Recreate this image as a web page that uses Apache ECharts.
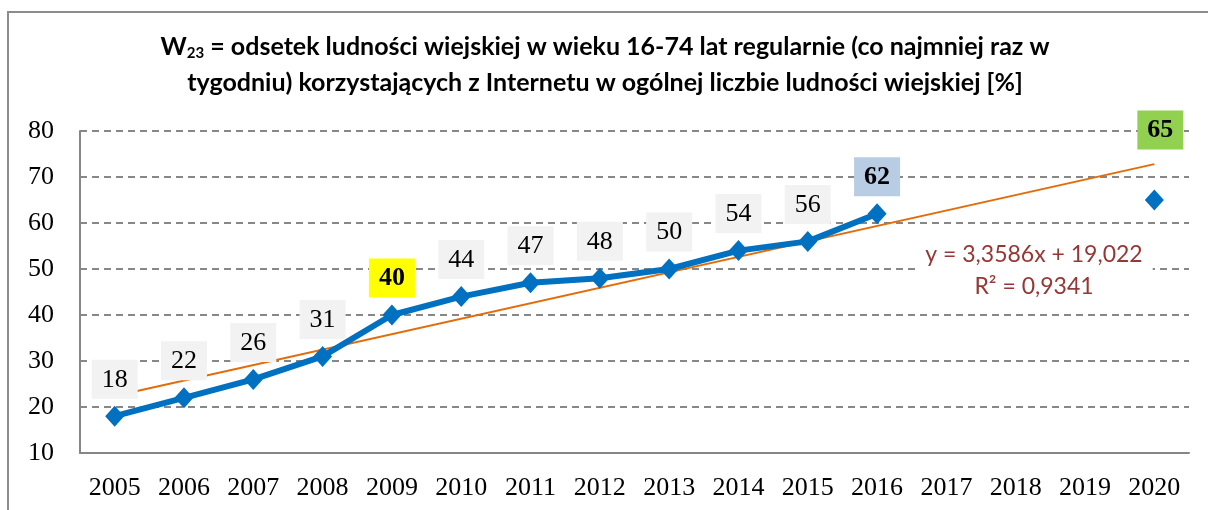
<!DOCTYPE html>
<html lang="pl">
<head>
    <meta charset="utf-8">
    <title>W23 - ludność wiejska korzystająca z Internetu</title>
    <script src="https://cdn.jsdelivr.net/npm/echarts@6/dist/echarts.min.js"></script>
    <style>
        html, body { margin: 0; padding: 0; background: #fff; }
        #chart { width: 1208px; height: 510px; }
    </style>
</head>
<body>
<div id="chart"></div>
<script>
    // dane
    var years = ['2005', '2006', '2007', '2008', '2009', '2010', '2011', '2012',
                 '2013', '2014', '2015', '2016', '2017', '2018', '2019', '2020'];
    var rate = [18, 22, 26, 31, 40, 44, 47, 48, 50, 54, 56, 62, null, null, null, 65];
    // linia trendu - końce
    var trend = [22.4, null, null, null, null, null, null, null,
                 null, null, null, null, null, null, null, 72.8];
    var yTicks = [10, 80, 10]; // min, max, krok
    var eqLines = ['y = 3,3586x + 19,022', 'R² = 0,9341'];

    // wyróżnione etykiety (kolor tła)
    var highlight = { '2009': '#ffff00', '2016': '#b8cce4', '2020': '#92d050' };

    var serif = '"Liberation Serif", "DejaVu Serif", serif';

    var chart = echarts.init(document.getElementById('chart'));

    var points = rate.map(function (v, i) {
        var item = { value: v };
        var bg = highlight[years[i]];
        if (bg) {
            item.label = { backgroundColor: bg, fontWeight: 'bold' };
        }
        if (years[i] === '2020') {
            item.label.distance = 40;
            item.label.offset = [6, 0];
        }
        return item;
    });

    chart.setOption({
        animation: false,
        title: {
            left: 600,
            top: 24,
            textAlign: 'center',
            text: '{b|W}{sub|23}{b| = odsetek ludności wiejskiej w wieku 16-74 lat regularnie (co najmniej raz w}\n' +
                  '{b|tygodniu) korzystających z Internetu w ogólnej liczbie ludności wiejskiej [%]}',
            textStyle: {
                rich: {
                    b: { fontFamily: 'Lato', fontWeight: 'bold', fontSize: 25, lineHeight: 36, color: '#000' },
                    sub: { fontFamily: 'Lato', fontWeight: 'bold', fontSize: 15, lineHeight: 36, padding: [12, 0, 0, 0], color: '#000' }
                }
            }
        },
        grid: { left: 80, right: 19, top: 131, bottom: 57 },
        xAxis: {
            type: 'category',
            data: years,
            boundaryGap: true,
            axisLine: { lineStyle: { color: '#868686', width: 2 } },
            axisTick: { show: false },
            axisLabel: { color: '#000', fontFamily: serif, fontSize: 26, margin: 22 }
        },
        yAxis: {
            type: 'value',
            min: yTicks[0],
            max: yTicks[1],
            interval: yTicks[2],
            axisLine: { show: true, lineStyle: { color: '#868686', width: 2 } },
            axisTick: { show: false },
            axisLabel: { color: '#000', fontFamily: serif, fontSize: 26, margin: 26 },
            splitLine: { lineStyle: { color: '#878787', width: 2, type: [7, 5] } }
        },
        series: [
            {
                name: 'trend',
                type: 'line',
                data: trend,
                connectNulls: true,
                symbol: 'none',
                lineStyle: { color: '#e36c09', width: 2 },
                z: 3
            },
            {
                name: 'W23',
                type: 'line',
                data: points,
                connectNulls: false,
                symbol: 'diamond',
                symbolSize: [19, 21],
                itemStyle: { color: '#0070c0' },
                lineStyle: { color: '#0070c0', width: 6 },
                label: {
                    show: true,
                    position: 'top',
                    distance: 7,
                    color: '#000',
                    fontFamily: serif,
                    fontSize: 26,
                    lineHeight: 28,
                    backgroundColor: '#f2f2f2',
                    padding: [6, 10, 5, 10]
                },
                z: 4
            }
        ],
        graphic: [
            {
                type: 'rect',
                shape: { x: 8, y: 12, width: 1230, height: 530 },
                style: { fill: 'none', stroke: '#8c8c8c', lineWidth: 2 },
                silent: true
            },
            {
                type: 'text',
                x: 1034,
                y: 271,
                style: {
                    text: eqLines.join('\n'),
                    align: 'center',
                    verticalAlign: 'middle',
                    fill: '#953735',
                    font: '23px Lato',
                    lineHeight: 32,
                    backgroundColor: '#fff',
                    padding: [0, 10, 0, 10]
                },
                z: 10
            }
        ]
    });
</script>
</body>
</html>
